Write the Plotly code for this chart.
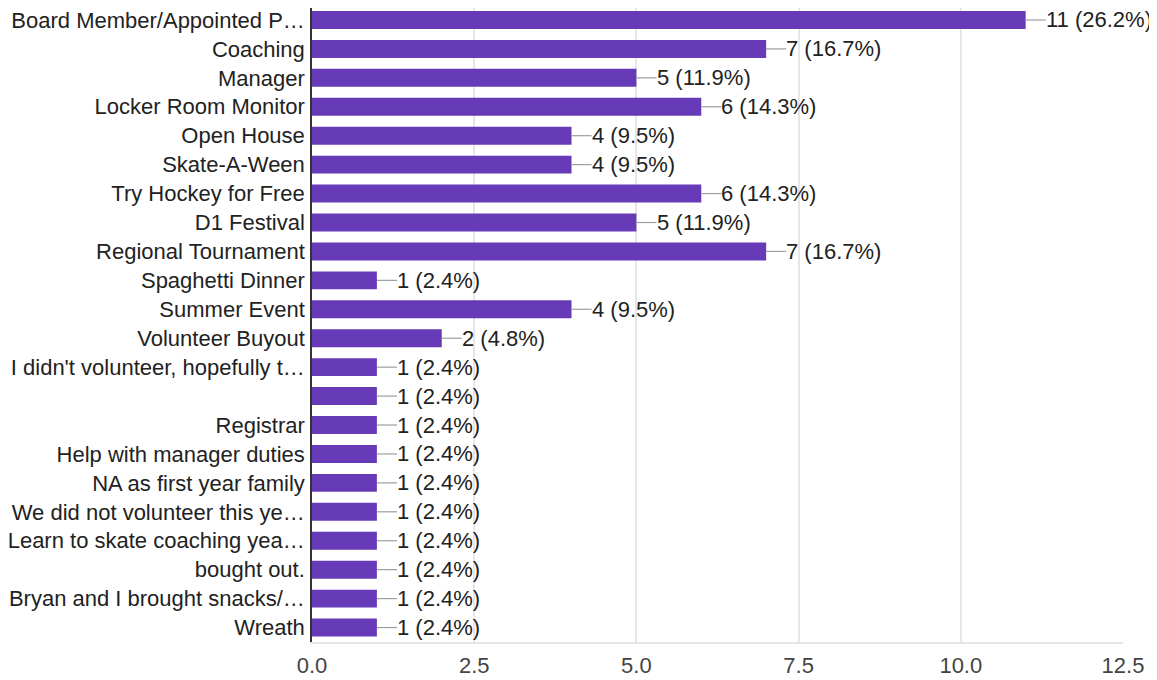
import plotly.graph_objects as go

categories = [
    "Board Member/Appointed P…",
    "Coaching",
    "Manager",
    "Locker Room Monitor",
    "Open House",
    "Skate-A-Ween",
    "Try Hockey for Free",
    "D1 Festival",
    "Regional Tournament",
    "Spaghetti Dinner",
    "Summer Event",
    "Volunteer Buyout",
    "I didn't volunteer, hopefully t…",
    "",
    "Registrar",
    "Help with manager duties",
    "NA as first year family",
    "We did not volunteer this ye…",
    "Learn to skate coaching yea…",
    "bought out.",
    "Bryan and I brought snacks/…",
    "Wreath",
]
counts = [11, 7, 5, 6, 4, 4, 6, 5, 7, 1, 4, 2, 1, 1, 1, 1, 1, 1, 1, 1, 1, 1]
total = 42
xticks = [0, 2.5, 5, 7.5, 10, 12.5]
xtick_labels = ["0.0", "2.5", "5.0", "7.5", "10.0", "12.5"]

positions = list(range(len(categories)))
labels = [f"{c} ({c / total * 100:.1f}%)" for c in counts]

FONT = "Liberation Sans, Arial, sans-serif"
FS = 22

fig = go.Figure()
fig.add_trace(go.Bar(
    x=counts, y=positions, orientation="h",
    marker=dict(color="#673ab7", line=dict(width=0)),
    width=0.62, hoverinfo="skip",
))

lead = 0.31
lx, ly = [], []
for v, p in zip(counts, positions):
    lx += [v, v + lead, None]
    ly += [p, p, None]
fig.add_trace(go.Scatter(x=lx, y=ly, mode="lines",
                         line=dict(color="#9e9e9e", width=1.2),
                         hoverinfo="skip", cliponaxis=False))

for v, p, t in zip(counts, positions, labels):
    fig.add_annotation(x=v + lead, y=p, text=t, showarrow=False,
                       xanchor="left", yanchor="middle", xshift=-2,
                       font=dict(size=FS, color="#222222", family=FONT))

fig.update_layout(
    width=1157, height=672,
    margin=dict(l=304, r=42, t=0, b=38, autoexpand=False),
    paper_bgcolor="white", plot_bgcolor="white",
    showlegend=False,
    font=dict(family=FONT, size=FS, color="#222222"),
)
fig.update_xaxes(
    range=[0, 12.5], tickvals=xticks, ticktext=xtick_labels,
    showgrid=True, gridcolor="#e6e6e6", gridwidth=1.5,
    zeroline=False, showline=True, linecolor="#e6e6e6", linewidth=1.5, mirror=True,
    tickfont=dict(size=FS, color="#444444"), ticks="", ticklen=0,
    ticklabelstandoff=3, automargin=False, ticklabeloverflow="allow",
)
fig.update_yaxes(
    range=[len(categories) - 0.5, -0.414],
    tickvals=positions, ticktext=categories,
    showgrid=False, zeroline=False,
    showline=True, linecolor="#333333", linewidth=1.5,
    tickfont=dict(size=FS, color="#222222"), ticks="", ticklen=0,
    ticklabelstandoff=1, automargin=False, ticklabeloverflow="allow",
)

fig.write_html("out.html")
